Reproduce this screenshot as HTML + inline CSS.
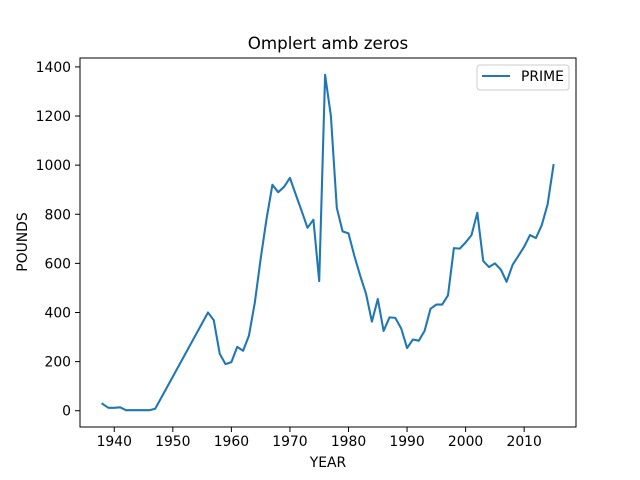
<!DOCTYPE html>
<html><head><meta charset="utf-8"><style>body{margin:0;background:#fff}svg{display:block}text{font-family:"DejaVu Sans","Liberation Sans",sans-serif;fill:#000}</style></head>
<body>
<svg id="chart" width="640" height="480">
<rect width="640" height="480" fill="#fff"/>
<text x="328" y="49" font-size="16.7" text-anchor="middle">Omplert amb zeros</text>
<g id="xt"></g>
<g id="yt"></g>
<path id="line" fill="none" stroke="#1f77b4" stroke-width="2.08" stroke-linejoin="round" stroke-linecap="square"/>
<rect x="80" y="58" width="496" height="369" fill="none" stroke="#000" stroke-width="1"/>
<text x="328" y="467" font-size="13.9" text-anchor="middle">YEAR</text>
<text x="0" y="0" font-size="13.9" text-anchor="middle" transform="translate(27,242) rotate(-90)">POUNDS</text>
<g>
<rect x="477" y="65" width="92" height="25" rx="3" fill="#fff" stroke="#ccc"/>
<line x1="482" y1="76" x2="510" y2="76" stroke="#1f77b4" stroke-width="2.08"/>
<text x="521" y="81" font-size="13.9">PRIME</text>
</g>
</svg>
<script>
const years=[1938,1939,1940,1941,1942,1943,1944,1945,1946,1947,1956,1957,1958,1959,1960,1961,1962,1963,1964,1965,1966,1967,1968,1969,1970,1971,1972,1973,1974,1975,1976,1977,1978,1979,1980,1981,1982,1983,1984,1985,1986,1987,1988,1989,1990,1991,1992,1993,1994,1995,1996,1997,1998,1999,2000,2001,2002,2003,2004,2005,2006,2007,2008,2009,2010,2011,2012,2013,2014,2015];
const values=[28,12,12,14,2,2,2,2,2,8,400,368,232,190,198,260,244,305,440,620,780,920,890,912,948,880,814,745,778,528,1368,1200,826,730,722,630,550,475,363,455,325,380,378,335,255,290,285,325,415,432,432,470,662,660,685,715,806,610,585,600,575,525,593,630,668,715,703,755,840,1000];
const xTicks=[1940,1950,1960,1970,1980,1990,2000,2010];
const yTicks=[0,200,400,600,800,1000,1200,1400];
const NS='http://www.w3.org/2000/svg';
const x0=Math.min(...years),x1=Math.max(...years),xm=(x1-x0)*0.05;
const v0=Math.min(...values),v1=Math.max(...values),vm=(v1-v0)*0.05;
const xs=y=>80+(y-(x0-xm))*496/((x1-x0)+2*xm);
const ys=v=>427-(v-(v0-vm))*369/((v1-v0)+2*vm);
let d='';years.forEach((y,i)=>{d+=(i?'L':'M')+xs(y).toFixed(1)+' '+ys(values[i]).toFixed(1);});
document.getElementById('line').setAttribute('d',d);
const xg=document.getElementById('xt'),yg=document.getElementById('yt');
xTicks.forEach(t=>{const l=document.createElementNS(NS,'line');l.setAttribute('x1',xs(t));l.setAttribute('x2',xs(t));l.setAttribute('y1',427);l.setAttribute('y2',432);l.setAttribute('stroke','#000');


xg.appendChild(l);const tx=document.createElementNS(NS,'text');tx.setAttribute('x',xs(t));tx.setAttribute('y',446);tx.setAttribute('font-size','13.9');tx.setAttribute('text-anchor','middle');tx.textContent=t;


xg.appendChild(tx);});
yTicks.forEach(t=>{const l=document.createElementNS(NS,'line');l.setAttribute('x1',75);l.setAttribute('x2',80);l.setAttribute('y1',ys(t));l.setAttribute('y2',ys(t));l.setAttribute('stroke','#000');


yg.appendChild(l);const tx=document.createElementNS(NS,'text');tx.setAttribute('x',71);tx.setAttribute('y',ys(t)+5);tx.setAttribute('font-size','13.9');tx.setAttribute('text-anchor','end');tx.textContent=t;


yg.appendChild(tx);});
</script>
</body></html>
